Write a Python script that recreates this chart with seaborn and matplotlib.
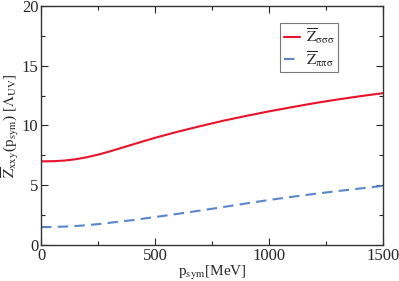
import numpy as np
import pandas as pd
import matplotlib
matplotlib.use("Agg")
import matplotlib.pyplot as plt
import seaborn as sns
from matplotlib.ticker import MultipleLocator

p_sym = [0, 50, 100, 150, 200, 250, 300, 400, 500, 600, 700, 800, 900, 1000, 1100, 1200, 1300, 1400, 1500]
z_sss = [7.0, 7.01, 7.06, 7.17, 7.34, 7.56, 7.82, 8.4, 8.97, 9.48, 9.95, 10.4, 10.8, 11.18, 11.53, 11.87, 12.17, 12.45, 12.7]
z_pps = [1.5, 1.51, 1.54, 1.59, 1.66, 1.75, 1.86, 2.08, 2.34, 2.61, 2.89, 3.18, 3.48, 3.77, 4.03, 4.28, 4.51, 4.73, 4.95]

lab_s = r"$\overline{\rm Z}_{\sigma\sigma\sigma}$"
lab_p = r"$\overline{\rm Z}_{\pi\pi\sigma}$"

df = pd.DataFrame({
    "p": p_sym * 2,
    "z": z_sss + z_pps,
    "curve": [lab_s] * len(p_sym) + [lab_p] * len(p_sym),
})

sns.set_style("ticks")
plt.rcParams["font.family"] = ["Liberation Serif", "DejaVu Serif"]
plt.rcParams["mathtext.fontset"] = "stix"

fig = plt.figure(figsize=(3.99, 2.81), dpi=100)
ax = fig.add_axes([0.103, 0.128, 0.857, 0.851])

sns.lineplot(data=df, x="p", y="z", hue="curve", style="curve",
             palette={lab_s: "#e8132b", lab_p: "#5b86cc"},
             dashes={lab_s: "", lab_p: (5, 3)}, linewidth=1.5, ax=ax)

ax.set_xlim(0, 1500)
ax.set_ylim(0, 20)
ax.xaxis.set_major_locator(MultipleLocator(500))
ax.xaxis.set_minor_locator(MultipleLocator(250))
ax.yaxis.set_major_locator(MultipleLocator(5))
ax.yaxis.set_minor_locator(MultipleLocator(2.5))
ax.tick_params(which="both", direction="in", top=True, right=True, labelsize=12, pad=2)
ax.tick_params(which="major", length=5, width=0.8)
ax.tick_params(which="minor", length=3, width=0.8)
for s in ax.spines.values():
    s.set_linewidth(1.0)
    s.set_color("#333333")

ax.set_xlabel(r"p$_{\rm sym}$[MeV]", fontsize=11, labelpad=0)
ax.set_ylabel(r"$\overline{\rm Z}_{\rm xxy}$(p$_{\rm sym}$) [$\Lambda_{\rm UV}$]", fontsize=11)
ax.yaxis.set_label_coords(-0.058, 0.5)

leg = ax.legend(loc="upper left", bbox_to_anchor=(0.70, 0.93), fontsize=11, frameon=True,
                fancybox=False, edgecolor="#555555", handlelength=1.0, handletextpad=0.4,
                borderpad=0.25, labelspacing=0.15, borderaxespad=0)
leg.get_frame().set_linewidth(0.8)

fig.savefig("out.png", dpi=100)
